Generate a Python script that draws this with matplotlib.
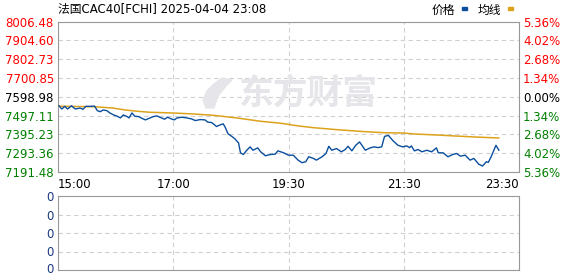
import numpy as np
import matplotlib
matplotlib.use("Agg")
import matplotlib.pyplot as plt
import matplotlib.transforms as mtransforms
from matplotlib.patches import Polygon

plt.rcParams['font.family'] = ['DejaVu Sans', 'Noto Sans CJK SC']

# 数据 (分钟序号, 数值)
price_idx = [1, 4, 7, 10, 14, 18, 23, 26, 29, 35, 38, 41, 44, 47, 51, 54, 58, 61, 65, 68,
             72, 74, 77, 80, 84, 87, 91, 96, 99, 103, 106, 111, 114, 118, 121, 124, 129, 134,
             139, 143, 148, 153, 156, 160, 163, 165, 169, 172, 174, 177, 181, 184, 188, 190,
             193, 196, 200, 203, 208, 211, 216, 221, 226, 229, 235, 240, 245, 250, 254, 258,
             261, 266, 269, 275, 279, 282, 285, 290, 295, 299, 302, 306, 310, 314, 320, 325,
             329, 333, 337, 340, 344, 349, 354, 359, 363, 366, 368, 371, 375, 379, 384, 389,
             394, 396, 401, 406, 411, 415, 419, 424, 429, 433, 438, 442, 446, 448, 451, 456, 459]
price = [7550.7, 7533.0, 7547.5, 7533.0, 7550.7, 7533.0, 7538.4, 7531.4, 7547.5, 7547.5,
         7549.1, 7523.9, 7518.6, 7527.7, 7523.9, 7511.6, 7500.9, 7495.5, 7484.8, 7500.9,
         7491.8, 7484.8, 7511.6, 7493.9, 7491.8, 7483.2, 7474.1, 7484.8, 7491.8, 7495.5,
         7488.5, 7477.8, 7488.5, 7479.4, 7474.1, 7484.8, 7488.5, 7484.8, 7479.4, 7470.3,
         7475.7, 7474.1, 7461.7, 7459.6, 7447.3, 7438.1, 7447.3, 7452.6, 7434.9, 7399.0,
         7384.5, 7372.2, 7349.1, 7295.5, 7286.4, 7306.2, 7327.7, 7309.5, 7322.3, 7300.9,
         7279.4, 7286.4, 7288.0, 7306.2, 7295.5, 7282.6, 7282.6, 7255.8, 7241.9, 7247.3,
         7274.1, 7265.0, 7255.8, 7274.1, 7291.8, 7330.9, 7309.5, 7318.6, 7300.9, 7313.2,
         7330.9, 7306.2, 7336.3, 7354.5, 7309.5, 7322.3, 7327.7, 7323.9, 7327.7, 7384.5,
         7389.9, 7359.9, 7336.3, 7327.7, 7333.0, 7323.9, 7333.0, 7306.2, 7313.2, 7300.9,
         7309.5, 7300.9, 7322.3, 7295.5, 7295.5, 7274.1, 7286.4, 7291.8, 7277.3, 7282.6,
         7255.8, 7265.0, 7234.4, 7223.7, 7247.3, 7243.5, 7274.1, 7336.3, 7309.5]

avg_idx = [1, 38, 57, 70, 83, 96, 119, 141, 161, 186, 210, 231, 240, 247, 264, 288, 316,
           340, 360, 372, 395, 414, 434, 459]
avg = [7548.1, 7545.4, 7538.4, 7527.7, 7520.7, 7515.3, 7511.6, 7506.2, 7499.2, 7484.8,
       7467.1, 7456.4, 7449.9, 7443.5, 7432.8, 7422.0, 7411.3, 7404.3, 7402.7, 7397.3,
       7392.0, 7386.6, 7381.3, 7375.9]

prev_close = 7598.98
y_ticks = [8006.48, 7904.60, 7802.73, 7700.85, 7598.98, 7497.11, 7395.23, 7293.36, 7191.48]
pct_labels = ['5.36%', '4.02%', '2.68%', '1.34%', '0.00%', '1.34%', '2.68%', '4.02%', '5.36%']
x_ticks = [0, 120, 240, 360, 480]
x_labels = ['15:00', '17:00', '19:30', '21:30', '23:30']
vol_labels = ['0', '0', '0', '0', '0']

W, H = 578, 276
fig = plt.figure(figsize=(W / 100, H / 100), dpi=100)

def box(l, t, r, b):
    return [l / W, 1 - b / H, (r - l) / W, (b - t) / H]

frame_c = '#999999'
grid_kw = dict(color='#d0d0d0', linestyle=(0, (4, 3)), linewidth=0.8)

ax = fig.add_axes(box(58, 21.7, 519, 172))
ax.set_xlim(0, 480)
ax.set_ylim(y_ticks[-1], y_ticks[0])
ax.set_yticks(y_ticks)
ax.set_yticklabels(['%.2f' % v for v in y_ticks], fontsize=8.5)
ax.set_xticks(x_ticks)
ax.set_xticklabels([])
ax.grid(True, **grid_kw)
ax.tick_params(length=0, pad=3)
for s in ax.spines.values():
    s.set_color(frame_c)

def tick_color(v):
    if v > prev_close + 0.01:
        return '#ff0000'
    if v < prev_close - 0.01:
        return '#008000'
    return '#000000'

for lab, v in zip(ax.get_yticklabels(), y_ticks):
    lab.set_color(tick_color(v))

ax2 = ax.twinx()
ax2.set_ylim(ax.get_ylim())
ax2.set_yticks(y_ticks)
ax2.set_yticklabels(pct_labels, fontsize=8.5)
ax2.tick_params(length=0, pad=3)
for s in ax2.spines.values():
    s.set_visible(False)
for lab, v in zip(ax2.get_yticklabels(), y_ticks):
    lab.set_color(tick_color(v))

# 时间标签
for t, lab in zip(x_ticks, x_labels):
    ha = 'left' if t == x_ticks[0] else ('right' if t == x_ticks[-1] else 'center')
    ax.text(t, -0.04, lab, transform=ax.get_xaxis_transform(), ha=ha, va='top',
            fontsize=8.5, color='#000000')

# 水印
wm_c = '#e6e6ea'
fig.text(308 / W, 1 - 93 / H, '东方财富', fontsize=25, fontweight='bold',
         color=wm_c, ha='center', va='center', family=['Noto Sans CJK SC'], zorder=0)
logo = [(222, 78), (232, 80), (226, 86), (218, 96), (214, 108), (206, 108),
        (203, 100), (207, 91), (214, 84)]
fig.patches.append(Polygon([(x / W, 1 - y / H) for x, y in logo], closed=True,
                           transform=fig.transFigure, color=wm_c, zorder=0, figure=fig))
ax.patch.set_alpha(0)

ax.plot(avg_idx, avg, color='#dca21c', linewidth=1.1, zorder=3)
ax.plot(price_idx, price, color='#0a4f9e', linewidth=1.0, zorder=4)

# 下方成交量面板
axv = fig.add_axes(box(58, 196, 519, 270))
axv.set_xlim(0, 480)
axv.set_ylim(0, 4)
axv.set_yticks([0, 1, 2, 3, 4])
axv.set_yticklabels(vol_labels, fontsize=8.5, color='#1a3a80')
axv.set_xticks(x_ticks)
axv.set_xticklabels([])
axv.grid(True, **grid_kw)
axv.tick_params(length=0, pad=3)
for s in axv.spines.values():
    s.set_color(frame_c)
lowest = axv.get_yticklabels()[0]
lowest.set_transform(lowest.get_transform() +
                     mtransforms.ScaledTranslation(0, 2 / 100, fig.dpi_scale_trans))

# 标题与图例
fig.text(58 / W, 1 - 10 / H, '法国CAC40[FCHI] 2025-04-04 23:08', fontsize=8.5,
         ha='left', va='center', family=['DejaVu Sans', 'Noto Sans CJK SC'])
fig.text(432 / W, 1 - 10 / H, '价格', fontsize=8.5, ha='left', va='center',
         family=['Noto Sans CJK SC'])
fig.patches.append(plt.Rectangle((462 / W, 1 - 10 / H), 5 / W, 3 / H,
                                 transform=fig.transFigure, color='#0a4f9e', figure=fig))
fig.text(478 / W, 1 - 10 / H, '均线', fontsize=8.5, ha='left', va='center',
         family=['Noto Sans CJK SC'])
fig.patches.append(plt.Rectangle((508 / W, 1 - 10 / H), 5 / W, 3 / H,
                                 transform=fig.transFigure, color='#dca21c', figure=fig))

fig.savefig('out.png', dpi=100)
